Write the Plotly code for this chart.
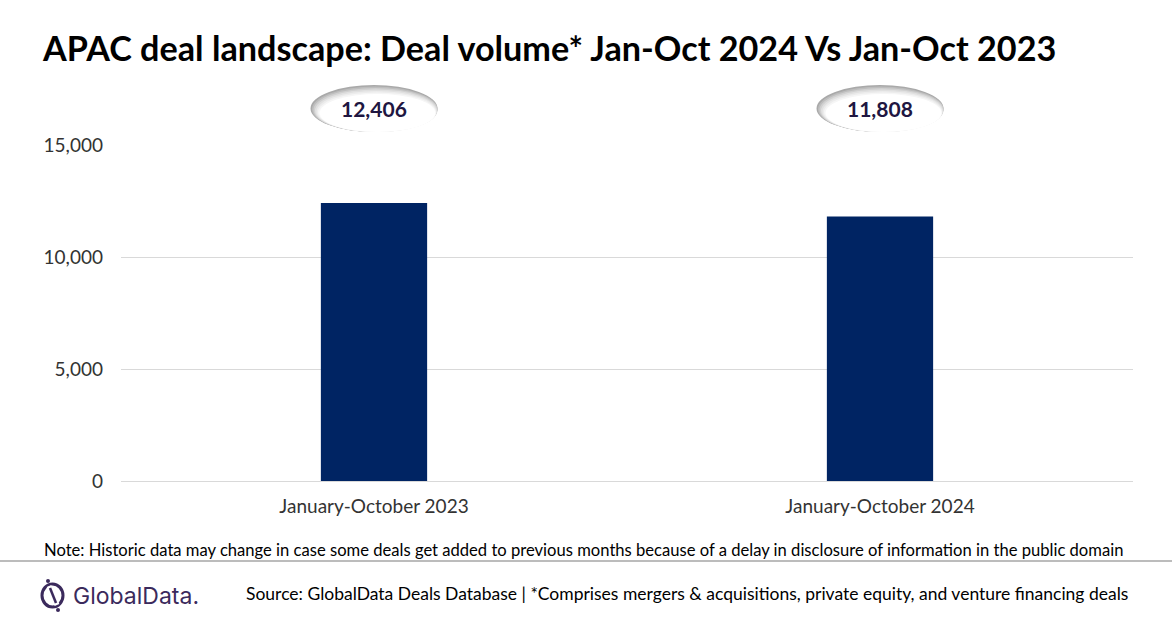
import plotly.graph_objects as go

categories = ["January-October 2023", "January-October 2024"]
deal_volume = [12406, 11808]
value_labels = ["12,406", "11,808"]
tick_values = [0, 5000, 10000, 15000]
tick_labels = ["0", "5,000", "10,000", "15,000"]

W, H = 1172, 628
L, R, T, B = 121, 39, 145, 147
PW, PH = W - L - R, H - T - B
FONT = "Lato"

def px(x):
    return (x - L) / PW

def py(y):
    return (H - B - y) / PH

fig = go.Figure()
fig.add_trace(go.Bar(
    x=categories, y=deal_volume, width=0.21,
    marker=dict(color="#002463", line=dict(width=0)),
    hoverinfo="skip",
))

shapes = []
annotations = []
# Ellipse badges above bars (layered to mimic shading)
unit_x = 2.0 / PW  # one pixel in category units
for i, lab in enumerate(value_labels):
    left, right, top, bottom = -63.5, 63.5, 85, 132
    layers = [
        (0, 0, 0, 0, "#a9a9a9"),
        (1.5, 0, 1.5, 0, "#bdbdbd"),
        (3, 0, 3, 0, "#d0d0d0"),
        (4.5, 0.5, 4.5, 0, "#e0e0e0"),
        (6, 1, 6, 0, "#ececec"),
        (7.5, 1.5, 7.5, 0, "#f6f6f6"),
        (9, 2, 9, 0, "#ffffff"),
    ]
    for dl, dr, dt, db, col in layers:
        shapes.append(dict(type="circle", xref="x", yref="paper",
                           x0=i + (left + dl) * unit_x, x1=i + (right - dr) * unit_x,
                           y0=py(bottom - db), y1=py(top + dt),
                           fillcolor=col, line=dict(width=0), layer="above"))
    annotations.append(dict(x=i, y=py(108.5), xref="x", yref="paper",
                            xanchor="center", yanchor="middle",
                            text="<b>" + lab + "</b>", showarrow=False,
                            font=dict(family=FONT, size=21, color="#201641")))

# Separator line
shapes.append(dict(type="line", xref="paper", yref="paper",
                   x0=px(0), x1=px(W), y0=py(561), y1=py(561),
                   line=dict(color="#a6a6a6", width=1.5)))

# Logo icon
logo_col = "#3b2a5c"
shapes.append(dict(type="circle", xref="paper", yref="paper",
                   x0=px(42), x1=px(63), y0=py(607), y1=py(584),
                   line=dict(color=logo_col, width=3), fillcolor="rgba(0,0,0,0)"))
shapes.append(dict(type="line", xref="paper", yref="paper",
                   x0=px(49), x1=px(57), y0=py(586), y1=py(605),
                   line=dict(color="white", width=5)))
shapes.append(dict(type="line", xref="paper", yref="paper",
                   x0=px(50), x1=px(56), y0=py(588), y1=py(603),
                   line=dict(color=logo_col, width=2.5)))
for cx, cy in [(48, 581), (58, 610)]:
    shapes.append(dict(type="circle", xref="paper", yref="paper",
                       x0=px(cx - 2), x1=px(cx + 2), y0=py(cy + 2), y1=py(cy - 2),
                       fillcolor=logo_col, line=dict(width=0)))

annotations += [
    dict(x=px(40), y=py(48), xref="paper", yref="paper", xanchor="left", yanchor="middle",
         text="<b>APAC deal landscape: Deal volume* Jan-Oct 2024 Vs Jan-Oct 2023</b>",
         showarrow=False, font=dict(family=FONT, size=34.2, color="#000000")),
    dict(x=px(42), y=py(550), xref="paper", yref="paper", xanchor="left", yanchor="middle",
         text="Note: Historic data may change in case some deals get added to previous months because of a delay in disclosure of information in the public domain",
         showarrow=False, font=dict(family=FONT, size=16.6, color="#000000")),
    dict(x=px(1130), y=py(593), xref="paper", yref="paper", xanchor="right", yanchor="middle",
         text="Source: GlobalData Deals Database | *Comprises mergers &amp; acquisitions, private equity, and venture financing deals",
         showarrow=False, font=dict(family=FONT, size=17.5, color="#000000")),
    dict(x=px(71), y=py(596), xref="paper", yref="paper", xanchor="left", yanchor="middle",
         text="GlobalData.", showarrow=False,
         font=dict(family="Inter", size=23, color=logo_col)),
]

fig.update_layout(
    width=W, height=H,
    margin=dict(l=L, r=R, t=T, b=B, pad=0),
    paper_bgcolor="white", plot_bgcolor="white",
    showlegend=False,
    shapes=shapes, annotations=annotations,
    xaxis=dict(type="category", tickfont=dict(family=FONT, size=19, color="#333333"),
               showgrid=False, showline=False, ticks="", ticklabelstandoff=12),
    yaxis=dict(range=[0, 15000], tickvals=tick_values, ticktext=tick_labels,
               tickfont=dict(family=FONT, size=19, color="#333333"),
               showgrid=True, gridcolor="#d9d9d9", gridwidth=1,
               zeroline=True, zerolinecolor="#d9d9d9", zerolinewidth=1,
               showline=False, ticks="", ticklabelstandoff=17),
)

fig.write_html("out.html", config={"displayModeBar": False},
               post_script="document.body.style.margin='0';")
